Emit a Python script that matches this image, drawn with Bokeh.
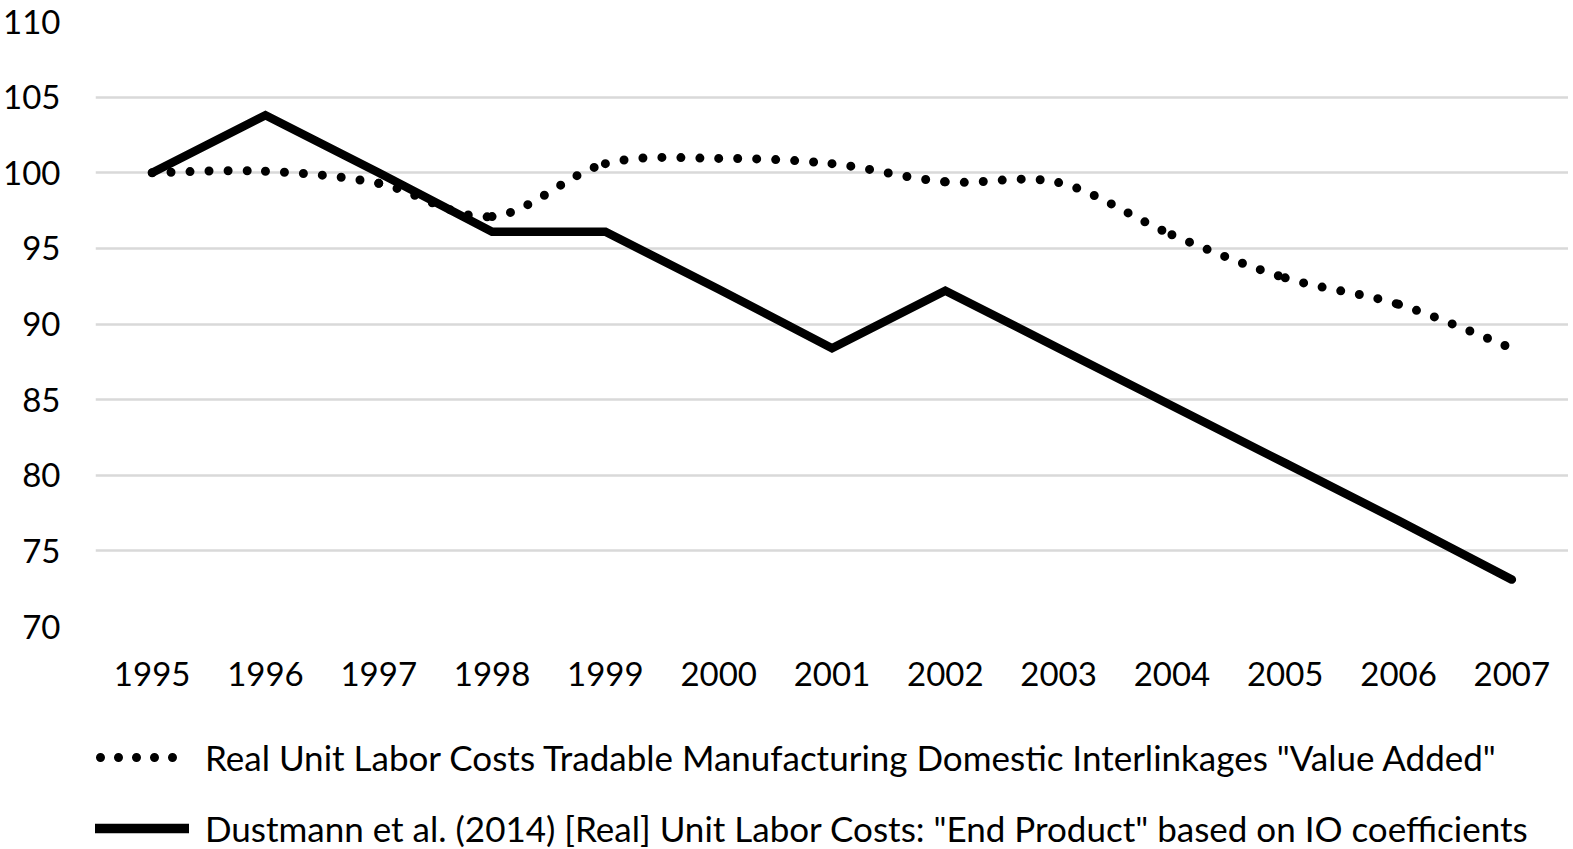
from bokeh.plotting import figure
from bokeh.layouts import column
from bokeh.models import Range1d, FixedTicker, Legend, LegendItem
from bokeh.embed import file_html
from bokeh.resources import INLINE

# ---- data ----
years = [1995, 1996, 1997, 1998, 1999, 2000, 2001, 2002, 2003, 2004, 2005, 2006, 2007]
year_labels = ["1995", "1996", "1997", "1998", "1999", "2000", "2001",
               "2002", "2003", "2004", "2005", "2006", "2007"]
value_added = [100.0, 100.1, 99.3, 97.1, 100.6, 100.95, 100.6, 99.4, 99.35, 95.9, 93.05, 91.3, 88.4]
end_product = [100.0, 103.8, 100.0, 96.1, 96.1, 92.3, 88.4, 92.2, 88.4, 84.6, 80.8, 77.0, 73.1]
y_ticks = [70, 75, 80, 85, 90, 95, 100, 105, 110]
series_names = [
    'Real Unit Labor Costs Tradable Manufacturing Domestic Interlinkages "Value Added"',
    'Dustmann et al. (2014) [Real] Unit Labor Costs: "End Product" based on IO coefficients',
]

FONT = "Lato"
W = 1568

p = figure(width=W, height=702, output_backend="svg", toolbar_location=None,
           x_range=Range1d(1994.5, 2007.5), y_range=Range1d(70, 110),
           min_border_left=93, min_border_right=0, min_border_top=21, min_border_bottom=76)
p.outline_line_color = None
p.background_fill_color = "white"
p.border_fill_color = "white"

# axes
p.xaxis.ticker = FixedTicker(ticks=years)
p.xaxis.major_label_overrides = {y: s for y, s in zip(years, year_labels)}
p.yaxis.ticker = FixedTicker(ticks=y_ticks)
for ax in (p.xaxis[0], p.yaxis[0]):
    ax.axis_line_color = None
    ax.major_tick_line_color = None
    ax.minor_tick_line_color = None
    ax.major_tick_out = 0
    ax.major_tick_in = 0
    ax.major_label_text_font = FONT
    ax.major_label_text_font_size = "33px"
    ax.major_label_text_color = "black"
p.xaxis.major_label_standoff = 35
p.yaxis.major_label_standoff = 35

p.xgrid.grid_line_color = None
p.ygrid.ticker = FixedTicker(ticks=y_ticks)
p.ygrid.grid_line_color = "#d9d9d9"
p.ygrid.grid_line_width = 2.5

# smoothed dotted series (Excel-like bezier through the data points)
n = len(years)
x0, y0, x1, y1, cx0, cy0, cx1, cy1 = [], [], [], [], [], [], [], []
for i in range(n - 1):
    pm = max(i - 1, 0)
    pp = min(i + 2, n - 1)
    x0.append(years[i]); y0.append(value_added[i])
    x1.append(years[i + 1]); y1.append(value_added[i + 1])
    cx0.append(years[i] + (years[i + 1] - years[pm]) / 6)
    cy0.append(value_added[i] + (value_added[i + 1] - value_added[pm]) / 6)
    cx1.append(years[i + 1] - (years[pp] - years[i]) / 6)
    cy1.append(value_added[i + 1] - (value_added[pp] - value_added[i]) / 6)

dot_style = dict(line_color="black", line_width=9, line_dash="0 19", line_cap="round")
solid_style = dict(line_color="black", line_width=8.5, line_cap="round", line_join="miter")

p.bezier(x0=x0, y0=y0, x1=x1, y1=y1, cx0=cx0, cy0=cy0, cx1=cx1, cy1=cy1, **dot_style)
p.line(x=years, y=end_product, **solid_style)

# ---- legend panel below the chart (its frame is aligned with the chart's frame) ----
LH = 147
q = figure(width=W, height=LH, output_backend="svg", toolbar_location=None,
           x_range=Range1d(0, 1), y_range=Range1d(0, 1),
           min_border_left=0, min_border_right=0, min_border_top=0, min_border_bottom=0)
q.axis.visible = False
q.grid.visible = False
q.outline_line_color = None
q.background_fill_color = "white"
q.border_fill_color = "white"
# legend proxies carry the series but lie outside this panel's ranges, so only their legend glyphs show
dot_proxy = q.line(x=years, y=value_added, line_color="black", line_width=9,
                   line_dash="0 18", line_dash_offset=13, line_cap="round")
solid_proxy = q.line(x=years, y=end_product, line_color="black", line_width=9.5, line_cap="round")

legend = Legend(items=[LegendItem(label=series_names[0], renderers=[dot_proxy]),
                       LegendItem(label=series_names[1], renderers=[solid_proxy])],
                location=(0, 0), orientation="vertical",
                padding=0, margin=0, spacing=29,
                glyph_width=94, glyph_height=42, label_height=42,
                label_standoff=16,
                label_text_font=FONT, label_text_font_size="35px",
                label_text_color="black",
                border_line_color=None, background_fill_alpha=0)
q.add_layout(legend)

layout = column(p, q, spacing=0)
open("out.html", "w").write(file_html(layout, INLINE))
